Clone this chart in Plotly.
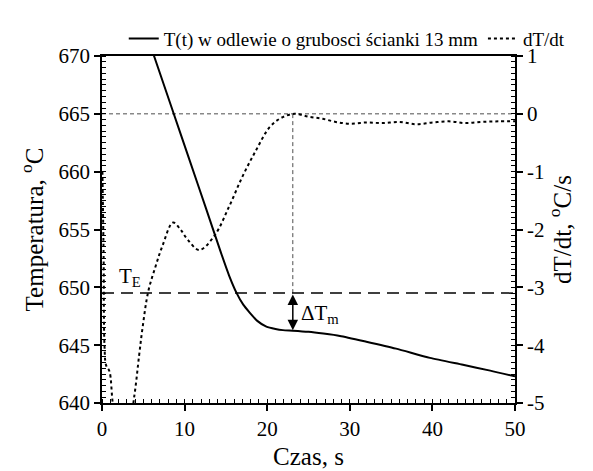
import plotly.graph_objects as go

# Temperature curve T(t)
t_T = [5.5, 6.3, 8.5, 10.6, 12.6, 14.4, 15.4, 16.3, 17.1, 17.9, 18.8, 19.9, 21.0, 21.9, 23.1, 25.0, 26.8, 28.8, 32.0, 35.6, 39.7, 43.7, 47.0, 50.0]
T_vals = [671.7, 670.0, 665.4, 661.0, 656.8, 653.0, 651.0, 649.5, 648.5, 647.8, 647.1, 646.6, 646.4, 646.3, 646.25, 646.15, 646.0, 645.8, 645.3, 644.7, 643.9, 643.3, 642.8, 642.3]

# Cooling rate dT/dt
t_d = [0.05, 0.2, 0.3, 0.5, 0.9, 1.3, 2.0, 3.0, 3.9, 4.5, 4.9, 5.6, 6.5, 7.3, 8.6, 9.5, 10.35, 11.77, 13.6, 15.4,
       17.0, 18.65, 20.3, 21.7, 23.3, 25.0, 26.7, 28.3, 30, 32, 34, 36, 38, 40, 42, 44, 46, 48, 50]
dT_vals = [-1.0, -2.5, -4.0, -4.35, -4.45, -5.0, -5.6, -5.6, -4.89, -4.17, -3.71, -3.07, -2.63, -2.29, -1.88, -2.0, -2.17,
           -2.355, -2.11, -1.6, -1.085, -0.63, -0.23, -0.07, 0.0, -0.05, -0.085, -0.14, -0.17, -0.15, -0.16, -0.14,
           -0.18, -0.15, -0.13, -0.16, -0.14, -0.13, -0.13]

T_E = 649.5
T_min = 646.3
t_min = 23.1

x_ticks = [0, 10, 20, 30, 40, 50]
yl_ticks = [640, 645, 650, 655, 660, 665, 670]
yr_ticks = [-5, -4, -3, -2, -1, 0, 1]

FONT = "Liberation Serif"

fig = go.Figure()
fig.add_trace(go.Scatter(x=t_T, y=T_vals, mode="lines", name="T(t) w odlewie o grubosci ścianki 13 mm",
                         line=dict(color="black", width=2, shape="spline", smoothing=0.6), yaxis="y"))
fig.add_trace(go.Scatter(x=t_d, y=dT_vals, mode="lines", name="dT/dt",
                         line=dict(color="black", width=2, dash="dot", shape="spline"), yaxis="y2"))

# reference lines
fig.add_shape(type="line", xref="x", yref="y", x0=0, x1=50, y0=T_E, y1=T_E,
              line=dict(color="black", width=1.5, dash="12px,7px"))
fig.add_shape(type="line", xref="x", yref="y", x0=0, x1=50, y0=665, y1=665,
              line=dict(color="black", width=0.7, dash="4px,3px"))
fig.add_shape(type="line", xref="x", yref="y", x0=t_min, x1=t_min, y0=T_E, y1=665,
              line=dict(color="black", width=0.7, dash="4px,3px"))

# double arrow
fig.add_annotation(x=t_min, y=T_min, ax=t_min, ay=T_E, xref="x", yref="y", axref="x", ayref="y",
                   text="", showarrow=True, arrowhead=2, arrowside="end+start", arrowwidth=1.5,
                   arrowsize=1.4, arrowcolor="black")
fig.add_annotation(x=3.4, y=650.9, xref="x", yref="y", text="T<sub>E</sub>", showarrow=False,
                   font=dict(family=FONT, size=21, color="black"))
fig.add_annotation(x=26.4, y=647.7, xref="x", yref="y", text="ΔT<sub>m</sub>", showarrow=False,
                   font=dict(family=FONT, size=21, color="black"))

axis_common = dict(showline=True, linecolor="black", linewidth=1.5, showgrid=False, zeroline=False,
                   ticks="outside", ticklen=6, tickwidth=1.5, tickcolor="black", automargin=False,
                   tickfont=dict(family=FONT, size=21, color="black"))

fig.update_layout(
    width=585, height=463,
    margin=dict(l=94, r=78, t=48, b=68),
    paper_bgcolor="white", plot_bgcolor="white",
    font=dict(family=FONT, color="black"),
    showlegend=True,
    legend=dict(orientation="h", x=1.135, xanchor="right", y=1.105, yanchor="top", xref="paper", yref="paper",
                font=dict(family=FONT, size=19, color="black"), bgcolor="rgba(0,0,0,0)", itemwidth=30,
                tracegroupgap=0),
    xaxis=dict(range=[0, 50], tickvals=x_ticks, mirror=True,
               minor=dict(dtick=1, tick0=0, ticks="inside", ticklen=4, tickcolor="black", tickwidth=1),
               title=dict(text="Czas, s", font=dict(family=FONT, size=25, color="black"), standoff=8),
               **axis_common),
    yaxis=dict(range=[640, 670], tickvals=yl_ticks,
               minor=dict(dtick=0.5, tick0=640, ticks="inside", ticklen=4, tickcolor="black", tickwidth=1),
               title=dict(text="Temperatura, <sup>o</sup>C", font=dict(family=FONT, size=25, color="black"), standoff=8),
               **axis_common),
    yaxis2=dict(range=[-5, 1], overlaying="y", side="right", tickvals=yr_ticks,
                ticktext=[str(v) for v in yr_ticks],
                minor=dict(dtick=0.1, tick0=0, ticks="inside", ticklen=4, tickcolor="black", tickwidth=1),
                title=dict(text="dT/dt, <sup>o</sup>C/s", font=dict(family=FONT, size=25, color="black"), standoff=8),
                **axis_common),
)

fig.write_html("out.html")
